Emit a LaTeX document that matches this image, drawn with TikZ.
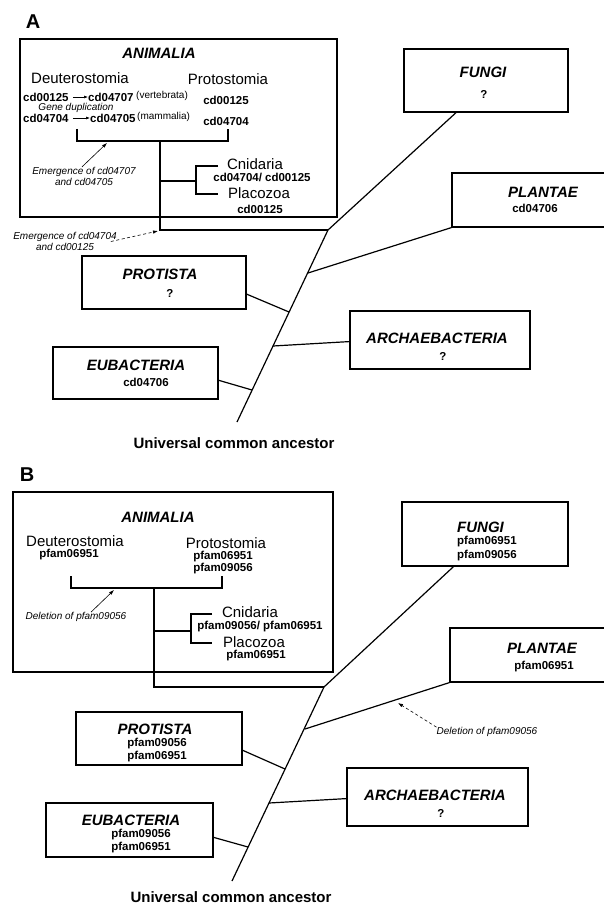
\documentclass[tikz,border=0pt]{standalone}
\usepackage{fontspec}
\setmainfont{Liberation Sans}
\usetikzlibrary{arrows.meta,positioning}

\tikzset{
    box/.style={draw, line width=1.2pt, inner sep=0pt},
    kname/.style={font=\fontsize{15}{18}\selectfont\bfseries\itshape, inner sep=0pt},
    clade/.style={font=\fontsize{15}{18}\selectfont, inner sep=0pt},
    fam/.style={font=\fontsize{11.5}{13}\selectfont\bfseries, inner sep=0pt},
    note/.style={font=\fontsize{10}{11.5}\selectfont\itshape, inner sep=0pt, align=center},
    taxon/.style={font=\fontsize{10}{12}\selectfont, inner sep=0pt},
    branch/.style={line width=1.2pt, line join=miter},
    panel/.style={font=\fontsize{20}{24}\selectfont\bfseries, inner sep=0pt},
    root/.style={font=\fontsize{15}{18}\selectfont\bfseries, inner sep=0pt},
}

\begin{document}
\begin{tikzpicture}[x=1pt, y=-1pt]
    \useasboundingbox (0,0) rectangle (604,904);

    % panel A
    \node[panel] (labA) at (33,22) {A};
    \node[box, minimum width=317pt, minimum height=178pt] (animA) at (178.5,128) {};
    \node[kname] (animAt) at (159,53) {ANIMALIA};
    \node[clade] (deutA) at (80,78) {Deuterostomia};
    \node[clade] (protoA) at (228,79) {Protostomia};
    \node[fam, anchor=west] (dA1) at (23,97) {cd00125};
    \node[fam, anchor=west] (dA2) at (88,97) {cd04707};
    \node[taxon, anchor=west] (vertA) at (136,96) {(vertebrata)};
    \node[note] (dupA) at (76,107.5) {Gene duplication};
    \node[fam, anchor=west] (dA3) at (23,118) {cd04704};
    \node[fam, anchor=west] (dA4) at (90,118) {cd04705};
    \node[taxon, anchor=west] (mammA) at (137,117) {(mammalia)};
    \draw [-{Latex[length=4pt,width=3pt]}, line width=0.6pt, shorten <=4pt] (dA1) -- (dA2);
    \draw [-{Latex[length=4pt,width=3pt]}, line width=0.6pt, shorten <=4pt] (dA3) -- (dA4);
    \node[fam] (pA1) at (226,100) {cd00125};
    \node[fam] (pA2) at (226,121) {cd04704};

    \draw[branch] (77,129) -- (77,141) -- (228,141) -- (228,129);
    \coordinate (topA) at (328,230);
    \draw[branch] (160,141) -- (160,230) -- (topA);
    \draw[branch] (160,181) -- (196,181);
    \draw[branch] (218,166) -- (196,166) -- (196,194) -- (218,194);
    \node[clade] (cniA) at (255,164.5) {Cnidaria};
    \node[fam] (cniAf) at (262,177.5) {cd04704/ cd00125};
    \node[clade] (plcA) at (259,193) {Placozoa};
    \node[fam] (plcAf) at (260,209) {cd00125};

    \node[note] (emA) at (84,176.5) {Emergence of cd04707\\and cd04705};
    \coordinate (hitA) at (107,143);
    \draw [-{Latex[length=5pt,width=3.5pt]}, line width=0.6pt] ([xshift=-2pt]emA.north) -- (hitA);
    \node[note] (emB) at (65,241.5) {Emergence of cd04704\\and cd00125};
    \coordinate (hitB) at (158,231);
    \draw [-{Latex[length=5pt,width=3.5pt]}, line width=0.6pt, dashed, dash pattern=on 3pt off 2.5pt] ([xshift=-6pt]emB.east) -- (hitB);

    \node[box, minimum width=164pt, minimum height=63pt] (fungA) at (486,80.5) {};
    \node[kname] (fungAt) at (483,72) {FUNGI};
    \node[fam] (fungAf) at (484,94) {?};
    \node[box, minimum width=182pt, minimum height=54pt] (plaA) at (543,200) {};
    \node[kname] (plaAt) at (543,192) {PLANTAE};
    \node[fam] (plaAf) at (535,208) {cd04706};
    \node[box, minimum width=164pt, minimum height=53pt] (protA) at (164,282.5) {};
    \node[kname] (protAt) at (160,274) {PROTISTA};
    \node[fam] (protAf) at (170,293) {?};
    \node[box, minimum width=180pt, minimum height=58pt] (arcA) at (440,340) {};
    \node[kname] (arcAt) at (437,338) {ARCHAEBACTERIA};
    \node[fam] (arcAf) at (443,356) {?};
    \node[box, minimum width=165pt, minimum height=52pt] (eubA) at (135.5,373) {};
    \node[kname] (eubAt) at (136,365) {EUBACTERIA};
    \node[fam] (eubAf) at (146,382) {cd04706};

    \coordinate (rootA) at (237,422);
    \coordinate (jPlA) at (308,273);
    \coordinate (jPrA) at (289,312);
    \coordinate (jArA) at (273,346);
    \coordinate (jEuA) at (252,390);
    \draw[branch] (rootA) -- (topA) -- (fungA.227);
    \draw[branch] (plaA.south west) -- (jPlA);
    \draw[branch] (protA.-8) -- (jPrA);
    \draw[branch] (arcA.181) -- (jArA);
    \draw[branch] (eubA.-5) -- (jEuA);
    \node[root] (ucaA) at (234,443) {Universal common ancestor};

    % panel B
    \node[panel] (labB) at (27,475) {B};
    \node[box, minimum width=320pt, minimum height=180pt] (animB) at (173,582) {};
    \node[kname] (animBt) at (158,517) {ANIMALIA};
    \node[clade] (deutB) at (75,541) {Deuterostomia};
    \node[fam] (dB1) at (69,555) {pfam06951};
    \node[clade] (protoB) at (226,543.5) {Protostomia};
    \node[fam] (pB1) at (223,557) {pfam06951};
    \node[fam] (pB2) at (223,569) {pfam09056};

    \draw[branch] (71,576) -- (71,588) -- (222,588) -- (222,576);
    \coordinate (topB) at (324,687);
    \draw[branch] (154,588) -- (154,687) -- (topB);
    \draw[branch] (154,631) -- (191,631);
    \draw[branch] (212,614) -- (191,614) -- (191,643) -- (212,643);
    \node[clade] (cniB) at (250,612.5) {Cnidaria};
    \node[fam] (cniBf) at (260,627) {pfam09056/ pfam06951};
    \node[clade] (plcB) at (254,642) {Placozoa};
    \node[fam] (plcBf) at (256,655.5) {pfam06951};

    \node[note] (delA) at (76,617) {Deletion of pfam09056};
    \coordinate (hitC) at (114,590);
    \draw [-{Latex[length=5pt,width=3.5pt]}, line width=0.6pt] ([xshift=15pt]delA.north) -- (hitC);

    \node[box, minimum width=166pt, minimum height=64pt] (fungB) at (485,534) {};
    \node[kname, anchor=west] (fungBt) at (457,527) {FUNGI};
    \node[fam, anchor=west] (fungBf1) at (457,542) {pfam06951};
    \node[fam, anchor=west] (fungBf2) at (457,556) {pfam09056};
    \node[box, minimum width=182pt, minimum height=54pt] (plaB) at (541,655) {};
    \node[kname] (plaBt) at (542,648) {PLANTAE};
    \node[fam] (plaBf) at (544,667) {pfam06951};
    \node[box, minimum width=166pt, minimum height=53pt] (protB) at (159,738.5) {};
    \node[kname] (protBt) at (155,729) {PROTISTA};
    \node[fam] (protBf1) at (157,743.5) {pfam09056};
    \node[fam] (protBf2) at (157,756.5) {pfam06951};
    \node[box, minimum width=181pt, minimum height=58pt] (arcB) at (437.5,797) {};
    \node[kname] (arcBt) at (435,795) {ARCHAEBACTERIA};
    \node[fam] (arcBf) at (441,813) {?};
    \node[box, minimum width=167pt, minimum height=54pt] (eubB) at (129.5,830) {};
    \node[kname] (eubBt) at (131,820.5) {EUBACTERIA};
    \node[fam] (eubBf1) at (141,835) {pfam09056};
    \node[fam] (eubBf2) at (141,848) {pfam06951};

    \coordinate (rootB) at (232,881);
    \coordinate (jPlB) at (305,729);
    \coordinate (jPrB) at (285,769);
    \coordinate (jArB) at (269,803);
    \coordinate (jEuB) at (248,847);
    \draw[branch] (rootB) -- (topB) -- (fungB.226);
    \draw[branch] (plaB.south west) -- (jPlB);
    \draw[branch] (protB.-8) -- (jPrB);
    \draw[branch] (arcB.181) -- (jArB);
    \draw[branch] (eubB.-5) -- (jEuB);

    \node[note] (delB) at (487,732) {Deletion of pfam09056};
    \coordinate (hitD) at (398,703);
    \draw [-{Latex[length=5pt,width=3.5pt]}, line width=0.6pt, dashed, dash pattern=on 3pt off 2.5pt] (delB.north west) -- (hitD);
    \node[root] (ucaB) at (231,897) {Universal common ancestor};
\end{tikzpicture}
\end{document}
